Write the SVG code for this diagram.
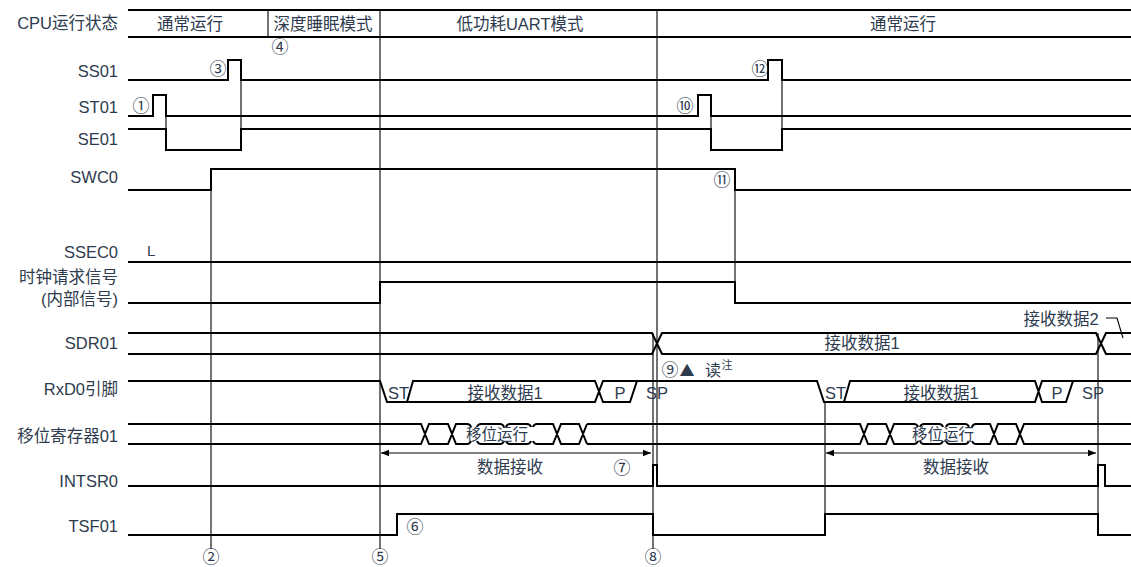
<svg xmlns="http://www.w3.org/2000/svg" width="1131" height="567" viewBox="0 0 1131 567">
<style>
text{font-family:"Liberation Sans","Noto Sans CJK SC",sans-serif;fill:#2e3b4e}
.lbl{font-size:16.5px;text-anchor:end}
.c{text-anchor:middle}
.t17{font-size:16.5px}
.num{font-family:"Noto Sans CJK SC",sans-serif;font-size:17px;text-anchor:middle}
.sig{stroke:#000;stroke-width:2;fill:none;stroke-linejoin:miter}
.vl{stroke:#000;stroke-width:1.1;fill:none}
</style>
<defs>
<marker id="ah" viewBox="0 0 10 10" refX="10" refY="5" markerWidth="8" markerHeight="8" orient="auto-start-reverse" markerUnits="userSpaceOnUse">
<path d="M0,1 L10,5 L0,9 Z" fill="#000"/>
</marker>
</defs>
<rect width="1131" height="567" fill="#fff"/>

<g id="connectors">
<path class="vl" d="M211,169 V549"/>
<path class="vl" d="M380,10 V549"/>
<path class="vl" d="M657,10 V486"/>
<path class="vl" d="M653,333 V549"/>
<path class="vl" d="M735,169 V303"/>
<path class="vl" d="M825,402 V535"/>
<path class="vl" d="M1098,333 V535"/>
<path class="vl" d="M268,10 V37"/>
</g>

<g id="cpu">
<text class="lbl" x="118" y="29">CPU运行状态</text>
<path class="sig" d="M128,10 H1131 M128,37 H1131"/>
<text class="t17 c" x="190" y="30">通常运行</text>
<text class="t17 c" x="323" y="30">深度睡眠模式</text>
<text class="t17 c" x="520" y="30">低功耗UART模式</text>
<text class="t17 c" x="903" y="30">通常运行</text>
</g>

<g id="ss01">
<text class="lbl" x="118" y="77">SS01</text>
<path class="sig" d="M128,80 H228 V60 H241 V80 H768 V60 H782 V80 H1131"/>
</g>
<g id="st01">
<text class="lbl" x="118" y="113">ST01</text>
<path class="sig" d="M128,116 H153 V95 H166 V116 H698 V95 H711 V116 H1131"/>
</g>
<g id="se01">
<text class="lbl" x="118" y="145">SE01</text>
<path class="sig" d="M128,129 H166 V150 H241 V129 H711 V150 H782 V129 H1131"/>
<path class="vl" d="M166,116 V129 M241,80 V129 M711,116 V129 M782,80 V129"/>
</g>
<g id="swc0">
<text class="lbl" x="118" y="183">SWC0</text>
<path class="sig" d="M128,190 H211 V169 H735 V190 H1131"/>
</g>
<g id="ssec0">
<text class="lbl" x="118" y="258">SSEC0</text>
<text x="147" y="256" style="font-size:15px">L</text>
<path class="sig" d="M128,262 H1131"/>
</g>
<g id="clkreq">
<text class="lbl" x="118" y="283">时钟请求信号</text>
<text class="lbl" x="118" y="305">(内部信号)</text>
<path class="sig" d="M128,303 H380 V282 H735 V303 H1131"/>
</g>
<g id="sdr01">
<text class="lbl" x="118" y="349">SDR01</text>
<path class="sig" d="M128,333 H652 L662,354 H1096 L1106,333 H1131 M128,354 H652 L662,333 H1096 L1106,354 H1131"/>
<text class="t17 c" x="862" y="349">接收数据1</text>
<text class="t17 c" x="1061" y="325">接收数据2</text>
<path class="vl" d="M1106,318 H1117 L1123,338"/>
<text x="670" y="376" class="num">⑨</text>
<text x="687" y="376" class="num" style="font-size:15px">▲</text>
<text x="713" y="376" class="c" style="font-size:16px">读</text>
<text x="727" y="369" class="c" style="font-size:11px">注</text>
</g>
<g id="rxd0">
<text class="lbl" x="118" y="395">RxD0引脚</text>
<path class="sig" d="M128,381 H380 L387,402 H595 L603,381 H637 M407,402 L413,381 H595 L603,402 H630 L637,381 H817 L824,402 H1035 L1042,381 H1073 M844,402 L850,381 H1035 L1042,402 H1066 L1073,381 H1131"/>
<text class="t17" x="388" y="399">ST</text>
<text class="t17 c" x="505" y="399">接收数据1</text>
<text class="t17 c" x="620" y="399">P</text>
<text class="t17 c" x="657" y="399">SP</text>
<text class="t17" x="825" y="399">ST</text>
<text class="t17 c" x="941" y="399">接收数据1</text>
<text class="t17 c" x="1057" y="399">P</text>
<text class="t17 c" x="1093" y="399">SP</text>
</g>
<g id="shiftreg">
<text class="lbl" x="118" y="442">移位寄存器01</text>
<path class="sig" d="M128,424 H421 L429,444 H448 L456,424 H467 q3,0 4,3 M128,444 H421 L429,424 H448 L456,444 H467 q3,0 4,-3 M477,427 q1,-3 4,-3 H500 q3,0 4,3 M477,441 q1,3 4,3 H500 q3,0 4,-3 M506,427 q1,-3 4,-3 H527 q3,0 4,3 M506,441 q1,3 4,3 H527 q3,0 4,-3 M533,427 q1,-3 4,-3 H553 L561,444 H579 L587,424 M533,441 q1,3 4,3 H553 L561,424 H579 L587,444"/>
<path class="sig" d="M587,424 H860 L868,444 H886 L894,424 H914 q3,0 4,3 M587,444 H860 L868,424 H886 L894,444 H914 q3,0 4,-3 M920,427 q1,-3 4,-3 H939 q3,0 4,3 M920,441 q1,3 4,3 H939 q3,0 4,-3 M946,427 q1,-3 4,-3 H965 q3,0 4,3 M946,441 q1,3 4,3 H965 q3,0 4,-3 M972,427 q1,-3 4,-3 H990 L998,444 H1016 L1024,424 H1131 M972,441 q1,3 4,3 H990 L998,424 H1016 L1024,444 H1131"/>
<text class="c" x="497" y="440" style="font-size:15.5px">移位运行</text>
<text class="c" x="943" y="440" style="font-size:15.5px">移位运行</text>
</g>
<g id="rxarrows">
<path class="vl" d="M381,453 H651" marker-start="url(#ah)" marker-end="url(#ah)"/>
<path class="vl" d="M826,453 H1096" marker-start="url(#ah)" marker-end="url(#ah)"/>
<text class="t17 c" x="510" y="473">数据接收</text>
<text class="t17 c" x="956" y="473">数据接收</text>
</g>
<g id="intsr0">
<text class="lbl" x="118" y="487">INTSR0</text>
<path class="sig" d="M128,486 H653 V465 H657 V486 H1098 V465 H1105 V486 H1131"/>
</g>
<g id="tsf01">
<text class="lbl" x="118" y="532">TSF01</text>
<path class="sig" d="M128,535 H397 V514 H653 V535 H825 V514 H1098 V535 H1131"/>
</g>

<g id="markers">
<text class="num" x="141" y="112">①</text>
<text class="num" x="211" y="563">②</text>
<text class="num" x="218" y="75">③</text>
<text class="num" x="280" y="53">④</text>
<text class="num" x="380" y="563">⑤</text>
<text class="num" x="415" y="533">⑥</text>
<text class="num" x="622" y="474">⑦</text>
<text class="num" x="653" y="563">⑧</text>
<text class="num" x="685" y="112">⑩</text>
<text class="num" x="722" y="186">⑪</text>
<text class="num" x="760" y="75">⑫</text>
</g>
</svg>
